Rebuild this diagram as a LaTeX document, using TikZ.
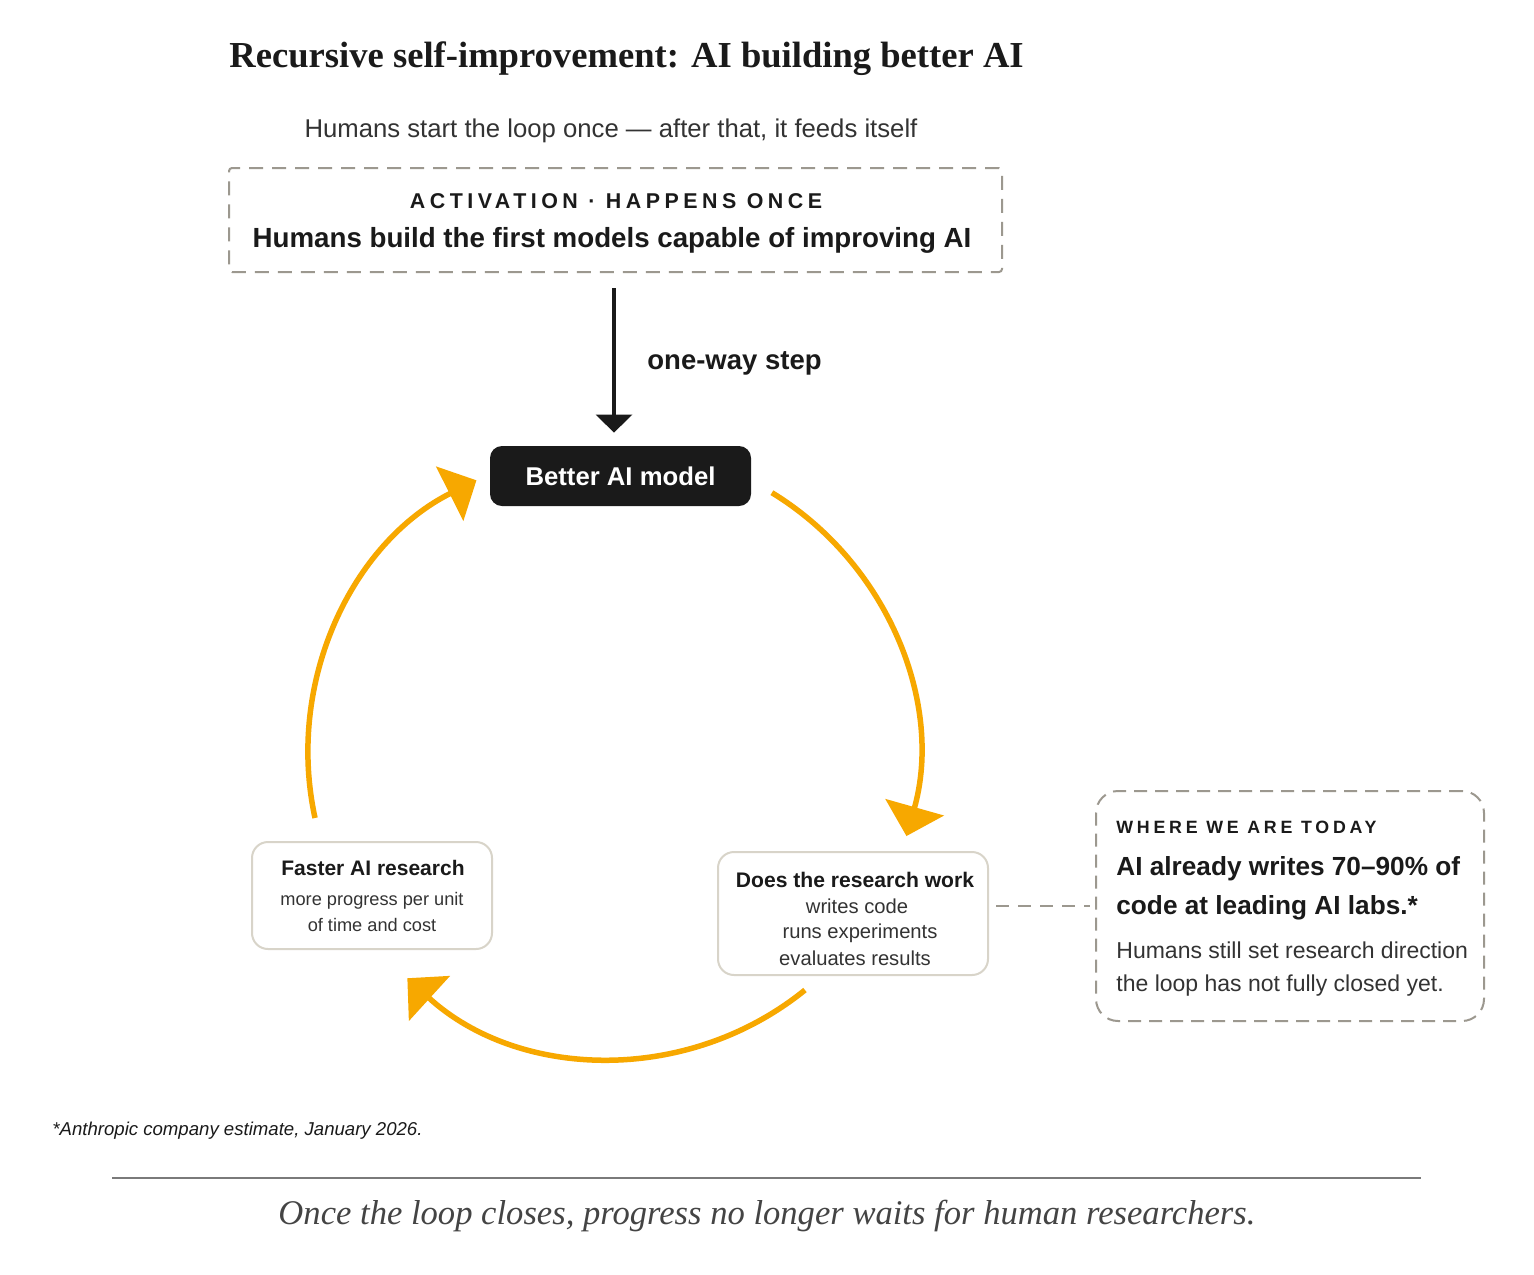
\documentclass[tikz,border=0pt]{standalone}
\usepackage{fontspec}
\setmainfont{Liberation Sans}
\newfontfamily\seriffont{Liberation Serif}
\newfontfamily\trackfont[LetterSpace=21]{Liberation Sans}
\newfontfamily\trackfontb[LetterSpace=21]{Liberation Sans}
\usetikzlibrary{arrows.meta,calc}
\definecolor{ink}{HTML}{1A1A1A}
\definecolor{inksoft}{HTML}{333333}
\definecolor{amber}{HTML}{F7A800}
\definecolor{dashgray}{HTML}{9C988F}
\definecolor{softline}{HTML}{D8D4C9}
\definecolor{rulegray}{HTML}{7A7A7A}
\definecolor{closing}{HTML}{444444}
\newcommand\fsz[1]{\fontsize{#1pt}{#1pt}\selectfont}
\tikzset{
  txt/.style={inner sep=0pt, anchor=base, text=ink},
  txtl/.style={inner sep=0pt, anchor=base west, text=ink},
  actbox/.style={draw=dashgray, line width=1pt, dash pattern=on 7pt off 4.5pt, rounded corners=1.5pt, minimum width=386.5pt, minimum height=52pt, inner sep=0pt},
  darkbox/.style={fill=ink, text=white, rounded corners=6pt, minimum width=130.5pt, minimum height=30pt, inner sep=0pt, font=\bfseries\fsz{12.85}},
  softbox/.style={draw=softline, fill=white, line width=1pt, rounded corners=8pt, inner sep=0pt},
  todaybox/.style={draw=dashgray, fill=white, line width=1pt, dash pattern=on 6.5pt off 4pt, rounded corners=11pt, inner sep=0pt},
  cyclearrow/.style={draw=amber, line width=2.75pt, -{Triangle[length=15pt,width=30pt]}},
  downarrow/.style={draw=ink, line width=1.75pt, -{Triangle[length=9pt,width=18pt]}},
  dashlink/.style={draw=dashgray, line width=1pt, dash pattern=on 6.5pt off 4.5pt},
}
\begin{document}
\begin{tikzpicture}[x=0.5pt,y=0.5pt]
\fill[white] (0,0) rectangle (1534,-1274);
\useasboundingbox (0,0) rectangle (1534,-1274);

% title
\node[txtl, font=\seriffont\bfseries\fsz{18.3}] (title) at (229,-67) {Recursive self-improvement: AI building better AI};
\node[txt, text=inksoft, font=\fsz{12.85}] (subtitle) at (611,-137.5) {Humans start the loop once — after that, it feeds itself};

% activation box
\node[actbox] (act) at (615.5,-220) {};
\node[txt, font=\trackfont\bfseries\fsz{10.7}] (acthead) at (616,-208.5) {ACTIVATION · HAPPENS ONCE};
\node[txt, font=\bfseries\fsz{13.85}] (actbody) at (612,-247) {Humans build the first models capable of improving AI};

% better model
\node[darkbox] (better) at (620.5,-476) {Better AI model};

% one-way arrow
\coordinate (stem) at (614,0);
\draw[downarrow] ($(act.south -| stem)+(0,-7.5pt)$) -- ($(better.north -| stem)+(0,6.5pt)$);
\node[txtl, font=\bfseries\fsz{13.75}] (oneway) at (647,-369) {one-way step};

% loop arcs
\coordinate (ctr) at (613,-753);
\draw[cyclearrow] ([shift={(58.6:305)}]ctr) arc[start angle=58.6, end angle=-15.8, radius=305];
\draw[cyclearrow] ([shift={(-51:305)}]ctr) arc[start angle=-51, end angle=-132.4, radius=305];
\draw[cyclearrow] ([shift={(192.3:305)}]ctr) arc[start angle=192.3, end angle=116.6, radius=305];

% faster AI research
\node[softbox, minimum width=120pt, minimum height=53.5pt] (faster) at (372,-895.5) {};
\node[txt, font=\bfseries\fsz{10.5}] (faster1) at (373,-875.5) {Faster AI research};
\node[txt, text=inksoft, font=\fsz{9.1}] (faster2) at (372,-905.5) {more progress per unit};
\node[txt, text=inksoft, font=\fsz{9.1}] (faster3) at (372,-931) {of time and cost};

% research work
\node[softbox, minimum width=135pt, minimum height=61.5pt] (research) at (853,-913.5) {};
\node[txt, font=\bfseries\fsz{10.55}] (research1) at (855,-887.5) {Does the research work};
\node[txt, text=inksoft, font=\fsz{10.1}] (research2) at (857,-913) {writes code};
\node[txt, text=inksoft, font=\fsz{10.1}] (research3) at (860,-938) {runs experiments};
\node[txt, text=inksoft, font=\fsz{10.1}] (research4) at (855,-965) {evaluates results};

% today box
\node[todaybox, minimum width=194pt, minimum height=115pt] (today) at (1290,-906) {};
\draw[dashlink] ($(research.east |- today.west)+(3.5pt,0)$) -- ($(today.west)+(-2.75pt,0)$);
\node[txtl, font=\trackfontb\bfseries\fsz{8.9}] (today1) at (1116,-833) {WHERE WE ARE TODAY};
\node[txtl, font=\bfseries\fsz{13.1}] (today2) at (1116,-875) {AI already writes 70–90\% of};
\node[txtl, font=\bfseries\fsz{13.1}] (today3) at (1116,-914) {code at leading AI labs.*};
\node[txtl, text=inksoft, font=\fsz{11.5}] (today4) at (1116,-958) {Humans still set research direction};
\node[txtl, text=inksoft, font=\fsz{11.5}] (today5) at (1116,-991) {the loop has not fully closed yet.};

% footnote and closing
\node[txtl, font=\itshape\fsz{9.3}] (foot) at (52,-1135) {*Anthropic company estimate, January 2026.};
\coordinate (rulel) at (112,-1178);
\coordinate (ruler) at (1421,-1178);
\draw[rulegray, line width=1.25pt] (rulel) -- (ruler);
\node[txt, text=closing, font=\seriffont\itshape\fsz{17.3}] (closingline) at (767,-1224) {Once the loop closes, progress no longer waits for human researchers.};
\end{tikzpicture}
\end{document}
